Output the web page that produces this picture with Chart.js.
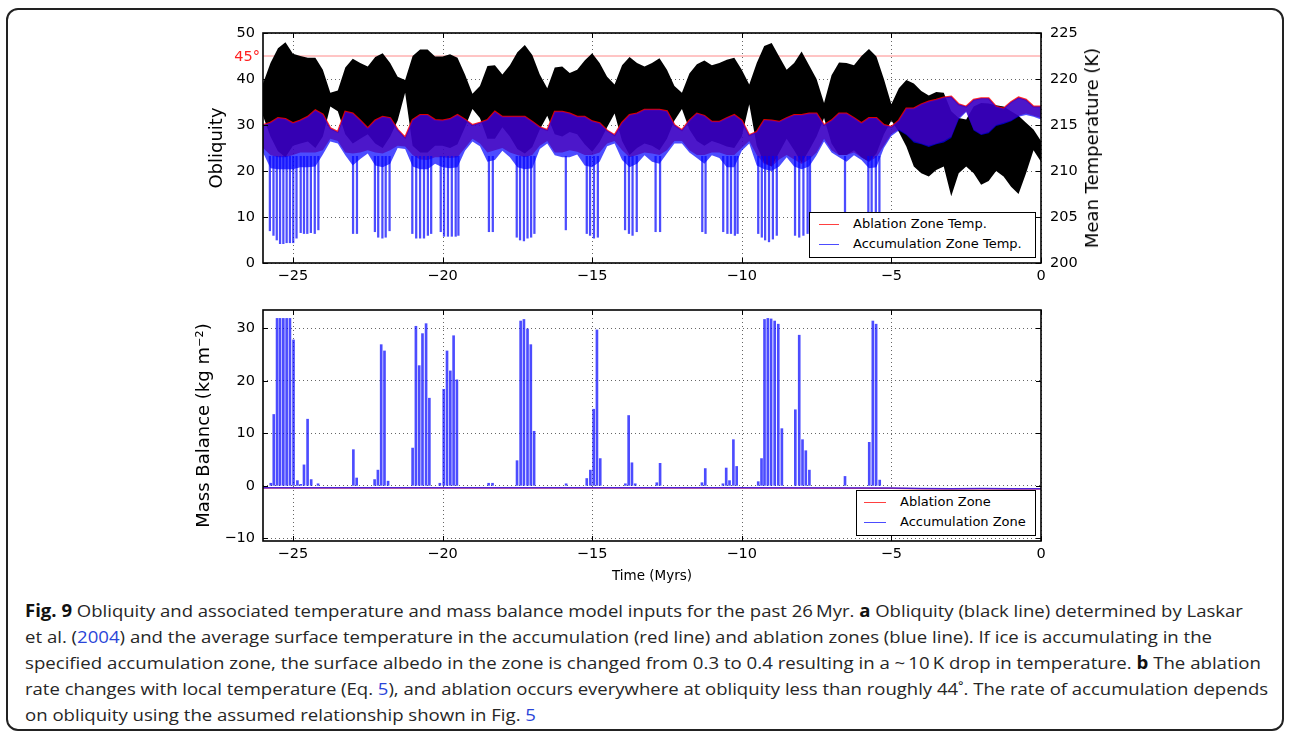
<!DOCTYPE html>
<html>
<head>
<meta charset="utf-8">
<script src="https://cdn.jsdelivr.net/npm/chart.js@4.4.1/dist/chart.umd.min.js"></script>
<style>
  body { margin: 0; background: #fff; }
  #page { position: relative; width: 1290px; height: 737px; overflow: hidden; font-family: "DejaVu Sans", sans-serif; }
  #frame { position: absolute; left: 6px; top: 8px; width: 1278px; height: 723px; box-sizing: border-box; border: 2px solid #222; border-radius: 12px; }
  canvas { position: absolute; left: 0; }
  #topChart { top: 0; }
  #bottomChart { top: 290px; }
  .legend { position: absolute; box-sizing: border-box; background: #fff; border: 1.5px solid #000; font-size: 13px; color: #000; }
  .legend .sw { position: absolute; height: 0; border-top: 1.5px solid; }
  .legend .txt { position: absolute; height: 16px; line-height: 16px; white-space: nowrap; }
  #mark45 { position: absolute; right: 1030px; top: 47px; font-size: 14.5px; line-height: 18px; color: #ff2020; }
  #rightTitle { position: absolute; left: 1092px; top: 148px; font-size: 18px; line-height: 22px; white-space: nowrap; color: #000; transform: translate(-50%, -50%) rotate(-90deg); }
  .cap { position: absolute; left: 25px; white-space: nowrap; font-family: "Open Sans", sans-serif; font-size: 17px; line-height: 22px; color: #262626; transform-origin: 0 50%; }
  .cap b { color: #111; }
  .lnk { color: #2a45d8; }
</style>
</head>
<body>
<div id="page">
  <div id="frame"></div>
  <canvas id="topChart" width="1290" height="300"></canvas>
  <canvas id="bottomChart" width="1290" height="300"></canvas>
  <div id="mark45">45°</div>
  <div id="rightTitle">Mean Temperature (K)</div>

  <div class="legend" style="left:809px; top:212px; width:227px; height:46px;">
    <div class="sw" style="left:9px; top:11px; width:20px; border-color:rgba(255,0,0,0.75);"></div>
    <div class="txt" style="left:43px; top:3px;">Ablation Zone Temp.</div>
    <div class="sw" style="left:9px; top:31px; width:20px; border-color:rgba(0,0,255,0.7);"></div>
    <div class="txt" style="left:43px; top:23px;">Accumulation Zone Temp.</div>
  </div>
  <div class="legend" style="left:856px; top:490px; width:180px; height:46px;">
    <div class="sw" style="left:7px; top:11px; width:22px; border-color:rgba(255,0,0,0.75);"></div>
    <div class="txt" style="left:43px; top:3px;">Ablation Zone</div>
    <div class="sw" style="left:7px; top:31px; width:22px; border-color:rgba(0,0,255,0.7);"></div>
    <div class="txt" style="left:43px; top:23px;">Accumulation Zone</div>
  </div>

  <div class="cap" style="top:600px;"><b>Fig. 9</b> Obliquity and associated temperature and mass balance model inputs for the past 26&#8201;Myr. <b>a</b> Obliquity (black line) determined by Laskar</div>
  <div class="cap" style="top:626px;">et al. (<span class="lnk">2004</span>) and the average surface temperature in the accumulation (red line) and ablation zones (blue line). If ice is accumulating in the</div>
  <div class="cap" style="top:652px;">specified accumulation zone, the surface albedo in the zone is changed from 0.3 to 0.4 resulting in a ~&#8201;10&#8201;K drop in temperature. <b>b</b> The ablation</div>
  <div class="cap" style="top:678px;">rate changes with local temperature (Eq. <span class="lnk">5</span>), and ablation occurs everywhere at obliquity less than roughly 44˚. The rate of accumulation depends</div>
  <div class="cap" style="top:704px;">on obliquity using the assumed relationship shown in Fig. <span class="lnk">5</span></div>
</div>

<script>
// time grid (Myr) for the envelope readings
const times = [-26, -25.75, -25.5, -25.25, -25, -24.75, -24.5, -24.25, -24, -23.75,
  -23.5, -23.25, -23, -22.75, -22.5, -22.25, -22, -21.75, -21.5, -21.25,
  -21, -20.75, -20.5, -20.25, -20, -19.75, -19.5, -19.25, -19, -18.75,
  -18.5, -18.25, -18, -17.75, -17.5, -17.25, -17, -16.75, -16.5, -16.25,
  -16, -15.75, -15.5, -15.25, -15, -14.75, -14.5, -14.25, -14, -13.75,
  -13.5, -13.25, -13, -12.75, -12.5, -12.25, -12, -11.75, -11.5, -11.25,
  -11, -10.75, -10.5, -10.25, -10, -9.75, -9.5, -9.25, -9, -8.75,
  -8.5, -8.25, -8, -7.75, -7.5, -7.25, -7, -6.75, -6.5, -6.25,
  -6, -5.75, -5.5, -5.25, -5, -4.75, -4.5, -4.25, -4, -3.75,
  -3.5, -3.25, -3, -2.75, -2.5, -2.25, -2, -1.75, -1.5, -1.25,
  -1, -0.75, -0.5, -0.25, 0];

// obliquity oscillation envelope (degrees)
const obliquityMax = [39.0, 43.5, 46.7, 48.0, 45.5, 45.0, 44.6, 44.6, 42.0, 37.0,
  37.5, 42.5, 44.4, 43.5, 42.7, 44.8, 45.6, 43.5, 40.5, 39.8,
  45.0, 46.4, 46.4, 44.9, 44.9, 45.4, 44.6, 41.0, 36.8, 38.5,
  42.8, 43.0, 41.0, 43.0, 45.8, 47.4, 45.2, 41.0, 38.0, 42.5,
  42.7, 41.3, 42.0, 44.0, 45.6, 43.5, 40.5, 38.8, 43.0, 44.8,
  43.5, 42.7, 43.5, 44.5, 42.0, 38.5, 37.0, 41.2, 43.2, 44.0,
  43.0, 43.5, 44.2, 44.6, 42.0, 38.8, 43.5, 47.2, 47.8, 44.9,
  42.0, 43.5, 46.0, 43.0, 40.0, 34.8, 40.8, 43.6, 43.5, 43.0,
  45.0, 46.5, 44.9, 40.0, 34.5, 38.0, 39.8, 39.0, 37.4, 36.4,
  37.2, 37.0, 33.0, 31.5, 31.2, 34.0, 34.8, 34.7, 34.3, 34.0,
  33.0, 32.0, 30.5, 29.0, 26.5];
const obliquityMin = [32.0, 27.5, 24.3, 23.0, 25.5, 26.0, 26.4, 25.0, 27.5, 34.0,
  33.0, 28.0, 26.0, 27.0, 28.0, 26.0, 25.0, 27.5, 31.0, 37.0,
  25.5, 24.0, 24.0, 25.5, 25.5, 25.0, 25.8, 29.5, 33.5, 31.5,
  27.0, 27.0, 29.5, 27.5, 24.8, 23.8, 25.2, 29.0, 32.0, 28.0,
  27.5, 28.5, 28.0, 25.8, 24.2, 26.3, 29.5, 32.5, 26.5, 23.5,
  25.0, 26.0, 25.5, 24.5, 27.0, 31.0, 33.5, 29.0, 26.5, 25.5,
  26.5, 26.0, 25.3, 25.0, 27.5, 34.5, 25.5, 21.8, 21.0, 24.0,
  27.0, 24.5, 21.8, 24.5, 27.5, 31.5, 26.0, 23.5, 23.5, 24.5,
  23.0, 22.0, 23.8, 28.0, 31.0, 28.5, 25.3, 21.0, 19.5, 18.8,
  20.2, 21.0, 14.5, 19.5, 21.0, 19.5, 17.0, 17.8, 20.0, 18.8,
  16.6, 15.0, 19.5, 24.5, 22.0];

// ablation zone temperature envelope (K)
const ablationMaxK = [215.0, 215.25, 215.75, 215.65, 215.2, 215.5, 215.9, 216.6, 216.15, 214.65,
  214.25, 216.45, 216.25, 215.5, 214.65, 215.5, 215.9, 215.75, 214.5, 213.65,
  215.55, 216.1, 216.1, 215.55, 215.5, 215.65, 216.1, 215.6, 215.0, 215.25,
  215.55, 216.45, 215.9, 215.9, 215.9, 215.9, 215.35, 214.75, 214.45, 216.45,
  216.45, 216.25, 215.9, 215.9, 215.4, 215.2, 214.4, 213.9, 215.25, 216.1,
  216.25, 216.65, 216.65, 216.65, 216.5, 215.0, 214.45, 215.5, 216.25, 216.0,
  215.35, 215.35, 215.75, 216.1, 215.5, 213.9, 214.25, 215.55, 215.5, 215.35,
  215.75, 216.1, 216.1, 216.25, 216.25, 215.0, 215.5, 216.25, 216.25, 215.75,
  215.2, 215.75, 215.75, 215.0, 214.8, 215.5, 216.8, 216.8, 217.25, 217.55,
  217.75, 218.0, 218.1, 217.25, 217.0, 217.75, 217.9, 217.9, 217.0, 216.8,
  217.5, 218.0, 217.75, 217.0, 217.0];
const ablationMinK = [212.5, 211.75, 211.5, 211.5, 211.75, 212.0, 212.0, 212.0, 212.25, 213.5,
  213.25, 212.0, 211.9, 212.0, 212.25, 212.0, 211.9, 212.25, 212.75, 212.65,
  211.75, 211.25, 211.2, 211.5, 211.5, 211.4, 211.5, 212.5, 213.5, 213.0,
  212.0, 212.25, 212.5, 212.0, 211.75, 211.5, 211.75, 212.75, 213.25, 212.0,
  212.0, 212.25, 212.1, 211.75, 211.75, 212.0, 213.0, 213.25, 212.25, 211.5,
  211.75, 212.0, 211.9, 211.75, 212.25, 213.25, 213.25, 212.25, 211.75, 211.75,
  212.0, 212.0, 211.75, 211.75, 212.5, 213.25, 211.75, 210.75, 210.5, 211.25,
  211.75, 211.25, 210.75, 211.25, 212.0, 213.5, 212.25, 211.75, 211.75, 212.0,
  211.5, 211.0, 211.5, 212.75, 214.0, 214.5, 214.0, 213.25, 213.0, 212.75,
  213.0, 213.25, 213.75, 215.75, 216.5, 214.5, 214.0, 214.25, 215.0, 215.25,
  215.5, 216.0, 216.25, 216.0, 215.75];

// accumulation zone temperature: upper edge follows the ablation curve, lower edge (K)
const accumulationMaxK = ablationMaxK;
const accumulationMinK = [212.0, 210.3, 210.2, 210.2, 210.2, 210.4, 210.4, 210.5, 211.8, 213.2,
  213.0, 211.7, 210.6, 211.3, 211.9, 210.6, 210.4, 210.8, 212.5, 212.4,
  210.5, 210.2, 210.2, 210.8, 210.4, 210.3, 210.4, 212.2, 213.2, 212.7,
  211.0, 211.2, 212.2, 211.5, 210.4, 210.2, 210.3, 212.4, 213.0, 211.7,
  211.5, 211.5, 211.8, 210.6, 210.4, 211.0, 212.7, 213.0, 211.2, 210.4,
  210.8, 211.7, 211.0, 210.8, 211.9, 213.0, 213.0, 212.0, 211.4, 210.8,
  211.7, 211.4, 210.4, 210.4, 212.2, 213.0, 210.6, 210.2, 210.0, 210.5,
  211.5, 210.5, 210.2, 210.5, 211.7, 213.2, 212.0, 211.5, 211.0, 211.7,
  211.2, 210.3, 210.4, 212.5, 213.8, 214.4, 213.9, 213.1, 212.9, 212.6,
  212.9, 213.1, 213.6, 215.6, 216.4, 214.4, 213.9, 214.1, 214.9, 215.1,
  215.4, 215.9, 216.1, 215.9, 215.6];

// accumulation zone temperature drops (time Myr, minimum K)
const dropTimes = [-25.77, -25.65, -25.54, -25.43, -25.32, -25.21, -25.10, -24.99, -24.88,
  -24.74, -24.63, -24.52, -24.40, -24.27, -24.15, -22.99, -22.86,
  -22.26, -22.15, -22.01, -21.90, -21.77, -21.01, -20.88, -20.75, -20.62, -20.49, -20.38,
  -20.06, -19.95, -19.82, -19.69, -19.56, -19.47, -18.45, -18.32,
  -17.52, -17.41, -17.28, -17.16, -17.04, -16.93, -15.88, -15.18, -15.07, -14.94, -14.81,
  -13.90, -13.77, -13.65, -13.51, -12.88, -12.73, -11.32, -11.21,
  -10.62, -10.48, -10.36, -10.23, -10.14, -9.45, -9.33, -9.22, -9.09, -8.96, -8.83,
  -8.22, -8.08, -7.94, -7.80, -7.72, -6.55, -5.77, -5.66, -5.52, -5.40];
const dropMinK = [203.5, 203.0, 202.5, 202.1, 202.1, 202.2, 202.2, 202.2, 202.7,
  203.3, 203.2, 203.2, 203.3, 203.2, 203.6, 203.2, 203.2,
  203.4, 202.8, 202.7, 202.8, 203.5, 203.2, 202.7, 202.7, 202.7, 203.0, 203.2,
  203.4, 202.9, 202.9, 202.9, 202.9, 203.0, 203.4, 203.4,
  202.8, 202.5, 202.4, 202.7, 202.8, 203.2, 203.6, 203.2, 203.0, 202.7, 202.8,
  203.6, 203.2, 203.0, 203.4, 203.4, 203.4, 203.4, 203.2,
  203.4, 203.2, 203.2, 203.0, 203.2, 203.2, 202.8, 202.5, 202.3, 202.6, 203.0,
  203.0, 202.8, 203.0, 203.2, 203.4, 203.0, 203.0, 202.8, 202.8, 203.0];
const dropTopK = 211.6;
const refObliquity = 45;

// mass balance (kg m^-2)
const mbTimes = [-25.74, -25.64, -25.53, -25.43, -25.32, -25.21, -25.10, -24.98, -24.85, -24.74,
  -24.63, -24.51, -24.39, -24.16, -22.98, -22.87, -22.27, -22.16, -22.05, -21.94,
  -21.82, -21.00, -20.89, -20.78, -20.67, -20.55, -20.44, -20.09, -19.96, -19.85,
  -19.74, -19.63, -19.52, -18.46, -18.33, -17.51, -17.39, -17.28, -17.16, -17.05,
  -16.94, -15.87, -15.18, -15.06, -14.95, -14.84, -14.73, -13.89, -13.78, -13.67,
  -13.56, -12.84, -12.73, -11.33, -11.22, -10.63, -10.52, -10.41, -10.28, -10.17,
  -9.45, -9.34, -9.24, -9.13, -9.02, -8.90, -8.78, -8.66, -8.21, -8.08,
  -7.97, -7.86, -7.74, -6.55, -5.74, -5.62, -5.51, -5.39];
const mbValues = [0.5, 13.6, 31.9, 31.9, 31.9, 31.9, 31.9, 27.8, 1.0, 0.3,
  4.0, 12.7, 1.2, 0.4, 6.9, 1.5, 1.2, 3.0, 26.9, 25.7,
  0.9, 7.2, 30.4, 22.9, 29.0, 30.9, 16.7, 0.5, 18.4, 25.7,
  21.9, 28.6, 20.2, 0.5, 0.5, 4.8, 31.4, 31.7, 29.9, 26.9,
  10.4, 0.4, 1.4, 3.0, 14.6, 29.7, 5.2, 0.4, 13.4, 4.4,
  0.4, 0.6, 4.3, 0.6, 3.3, 0.4, 3.4, 1.0, 8.8, 3.7,
  0.8, 5.2, 31.7, 31.9, 31.8, 31.4, 30.8, 10.9, 14.5, 28.7,
  8.8, 6.7, 3.0, 1.8, 8.3, 31.4, 30.8, 1.1];
const mbLineTimes = [-26, -20, -15, -10, -5, -4, -3, -2, -1, 0];
const ablationMB = [-0.4, -0.4, -0.4, -0.4, -0.45, -0.55, -0.6, -0.55, -0.6, -0.6];
const accumulationMB = [-0.35, -0.35, -0.35, -0.35, -0.4, -0.5, -0.55, -0.5, -0.55, -0.55];

const xTicks = [-25, -20, -15, -10, -5, 0];
const tickFont = { family: "DejaVu Sans", size: 14.5 };
const fmt = v => String(v).replace("-", "\u2212");
const pts = (xs, ys) => xs.map((x, i) => ({ x: x, y: ys[i] }));

// dotted vertical grid at the time ticks, drawn under the data
const timeGridPlugin = {
    id: "timeGrid",
    beforeDatasetsDraw(chart) {
        const { ctx, chartArea: a, scales } = chart;
        ctx.save();
        ctx.strokeStyle = "rgba(0,0,0,0.6)";
        ctx.lineWidth = 1;
        ctx.setLineDash([1, 3]);
        ctx.beginPath();
        xTicks.forEach(v => {
            const px = Math.round(scales.x.getPixelForValue(v)) + 0.5;
            ctx.moveTo(px, a.top); ctx.lineTo(px, a.bottom);
        });
        ctx.stroke();
        ctx.restore();
    }
};

// box around the plot with inward tick marks, like the original figure
const framePlugin = {
    id: "frame",
    afterDatasetsDraw(chart) {
        const { ctx, chartArea: a, scales } = chart;
        ctx.save();
        ctx.strokeStyle = "#000";
        ctx.lineWidth = 1;
        ctx.beginPath();
        xTicks.forEach(v => {
            const px = Math.round(scales.x.getPixelForValue(v)) + 0.5;
            ctx.moveTo(px, a.bottom); ctx.lineTo(px, a.bottom - 5);
            ctx.moveTo(px, a.top); ctx.lineTo(px, a.top + 5);
        });
        scales.y.ticks.forEach(t => {
            const py = Math.round(scales.y.getPixelForValue(t.value)) + 0.5;
            ctx.moveTo(a.left, py); ctx.lineTo(a.left + 5, py);
            ctx.moveTo(a.right, py); ctx.lineTo(a.right - 5, py);
        });
        ctx.stroke();
        ctx.lineWidth = 1.6;
        ctx.strokeRect(a.left, a.top, a.right - a.left, a.bottom - a.top);
        ctx.restore();
    }
};

const dotted = { color: "rgba(0,0,0,0.6)", lineWidth: 1, drawTicks: false };

function xAxis(height, showTitle) {
    return {
        type: "linear", min: -26, max: 0, offset: false,
        afterBuildTicks: ax => { ax.ticks = xTicks.map(v => ({ value: v })); },
        afterFit: ax => { ax.height = height; },
        grid: { display: false, drawTicks: false },
        border: { display: false },
        ticks: { padding: 5, color: "#000", font: tickFont, maxRotation: 0, autoSkip: false, callback: v => fmt(v) },
        title: { display: showTitle, text: "Time (Myrs)", color: "#000", font: { family: "DejaVu Sans", size: 13.5 }, padding: { top: 0, bottom: 5 } }
    };
}

const topChart = new Chart(document.getElementById("topChart").getContext("2d"), {
    type: "line",
    data: {
        datasets: [
            { data: pts([-26, 0], [refObliquity, refObliquity]), yAxisID: "y", borderColor: "rgba(255,60,60,0.6)", borderWidth: 1, pointRadius: 0, order: 10 },
            { data: pts(times, obliquityMax), yAxisID: "y", borderWidth: 0, borderColor: "#000", pointRadius: 0, order: 9 },
            { data: pts(times, obliquityMin), yAxisID: "y", borderWidth: 0, borderColor: "#000", pointRadius: 0, fill: 1, backgroundColor: "#000", order: 8 },
            { data: pts(times, ablationMaxK), yAxisID: "y1", borderColor: "rgba(255,0,0,0.85)", borderWidth: 2, pointRadius: 0, order: 7 },
            { data: pts(times, ablationMinK), yAxisID: "y1", borderWidth: 0, pointRadius: 0, fill: 3, backgroundColor: "rgba(255,0,0,0.7)", order: 6 },
            { data: pts(times, accumulationMaxK), yAxisID: "y1", borderWidth: 0, pointRadius: 0, order: 5 },
            { data: pts(times, accumulationMinK), yAxisID: "y1", borderWidth: 0, pointRadius: 0, fill: 5, backgroundColor: "rgba(0,0,255,0.7)", order: 4 },
            { type: "bar", data: dropTimes.map((t, i) => ({ x: t, y: [dropMinK[i], dropTopK] })), yAxisID: "y1",
              backgroundColor: "rgba(0,0,255,0.7)", borderWidth: 0, barThickness: 1.6, grouped: false, order: 3 }
        ]
    },
    options: {
        responsive: false,
        animation: false,
        devicePixelRatio: 1,
        events: [],
        layout: { padding: { top: 33, left: 0, right: 0, bottom: 0 } },
        plugins: { legend: { display: false }, tooltip: { enabled: false } },
        scales: {
            x: xAxis(37, false),
            y: {
                position: "left", min: 0, max: 50,
                afterFit: ax => { ax.width = 263; },
                grid: dotted,
                border: { display: false, dash: [1, 3] },
                ticks: { stepSize: 10, padding: 8, color: "#000", font: tickFont },
                title: { display: true, text: "Obliquity", color: "#000", font: { family: "DejaVu Sans", size: 18 }, padding: { top: 207, bottom: 0 } }
            },
            y1: {
                position: "right", min: 200, max: 225,
                afterFit: ax => { ax.width = 249; },
                grid: { display: false, drawTicks: false },
                border: { display: false },
                ticks: { stepSize: 5, padding: 9, color: "#000", font: tickFont }
            }
        }
    },
    plugins: [timeGridPlugin, framePlugin]
});

const bottomChart = new Chart(document.getElementById("bottomChart").getContext("2d"), {
    type: "line",
    data: {
        datasets: [
            { data: pts(mbLineTimes, ablationMB), borderColor: "rgba(255,0,0,0.7)", borderWidth: 1.5, pointRadius: 0, order: 3 },
            { data: pts(mbLineTimes, accumulationMB), borderColor: "rgba(0,0,255,0.7)", borderWidth: 1.5, pointRadius: 0, order: 2 },
            { type: "bar", data: pts(mbTimes, mbValues), backgroundColor: "rgba(0,0,255,0.7)", borderWidth: 0,
              barThickness: 2, grouped: false, order: 1 }
        ]
    },
    options: {
        responsive: false,
        animation: false,
        devicePixelRatio: 1,
        events: [],
        layout: { padding: { top: 20, left: 0, right: 249, bottom: 0 } },
        plugins: { legend: { display: false }, tooltip: { enabled: false } },
        scales: {
            x: xAxis(49, true),
            y: {
                min: -10.5, max: 33.5,
                afterBuildTicks: ax => { ax.ticks = [-10, 0, 10, 20, 30].map(v => ({ value: v })); },
                afterFit: ax => { ax.width = 263; },
                grid: dotted,
                border: { display: false, dash: [1, 3] },
                ticks: { padding: 8, color: "#000", font: tickFont, callback: v => fmt(v) },
                title: { display: true, text: "Mass Balance (kg m\u207B\u00B2)", color: "#000", font: { family: "DejaVu Sans", size: 18 }, padding: { top: 194, bottom: 0 } }
            }
        }
    },
    plugins: [timeGridPlugin, framePlugin]
});

// stretch each caption line to the width it has in the figure
const capEnds = [1243, 1212, 1261, 1268, 536];
document.querySelectorAll(".cap").forEach((el, i) => {
    const w = el.getBoundingClientRect().width;
    el.style.transform = "scaleX(" + ((capEnds[i] - 25) / w).toFixed(4) + ")";
});
</script>
</body>
</html>
